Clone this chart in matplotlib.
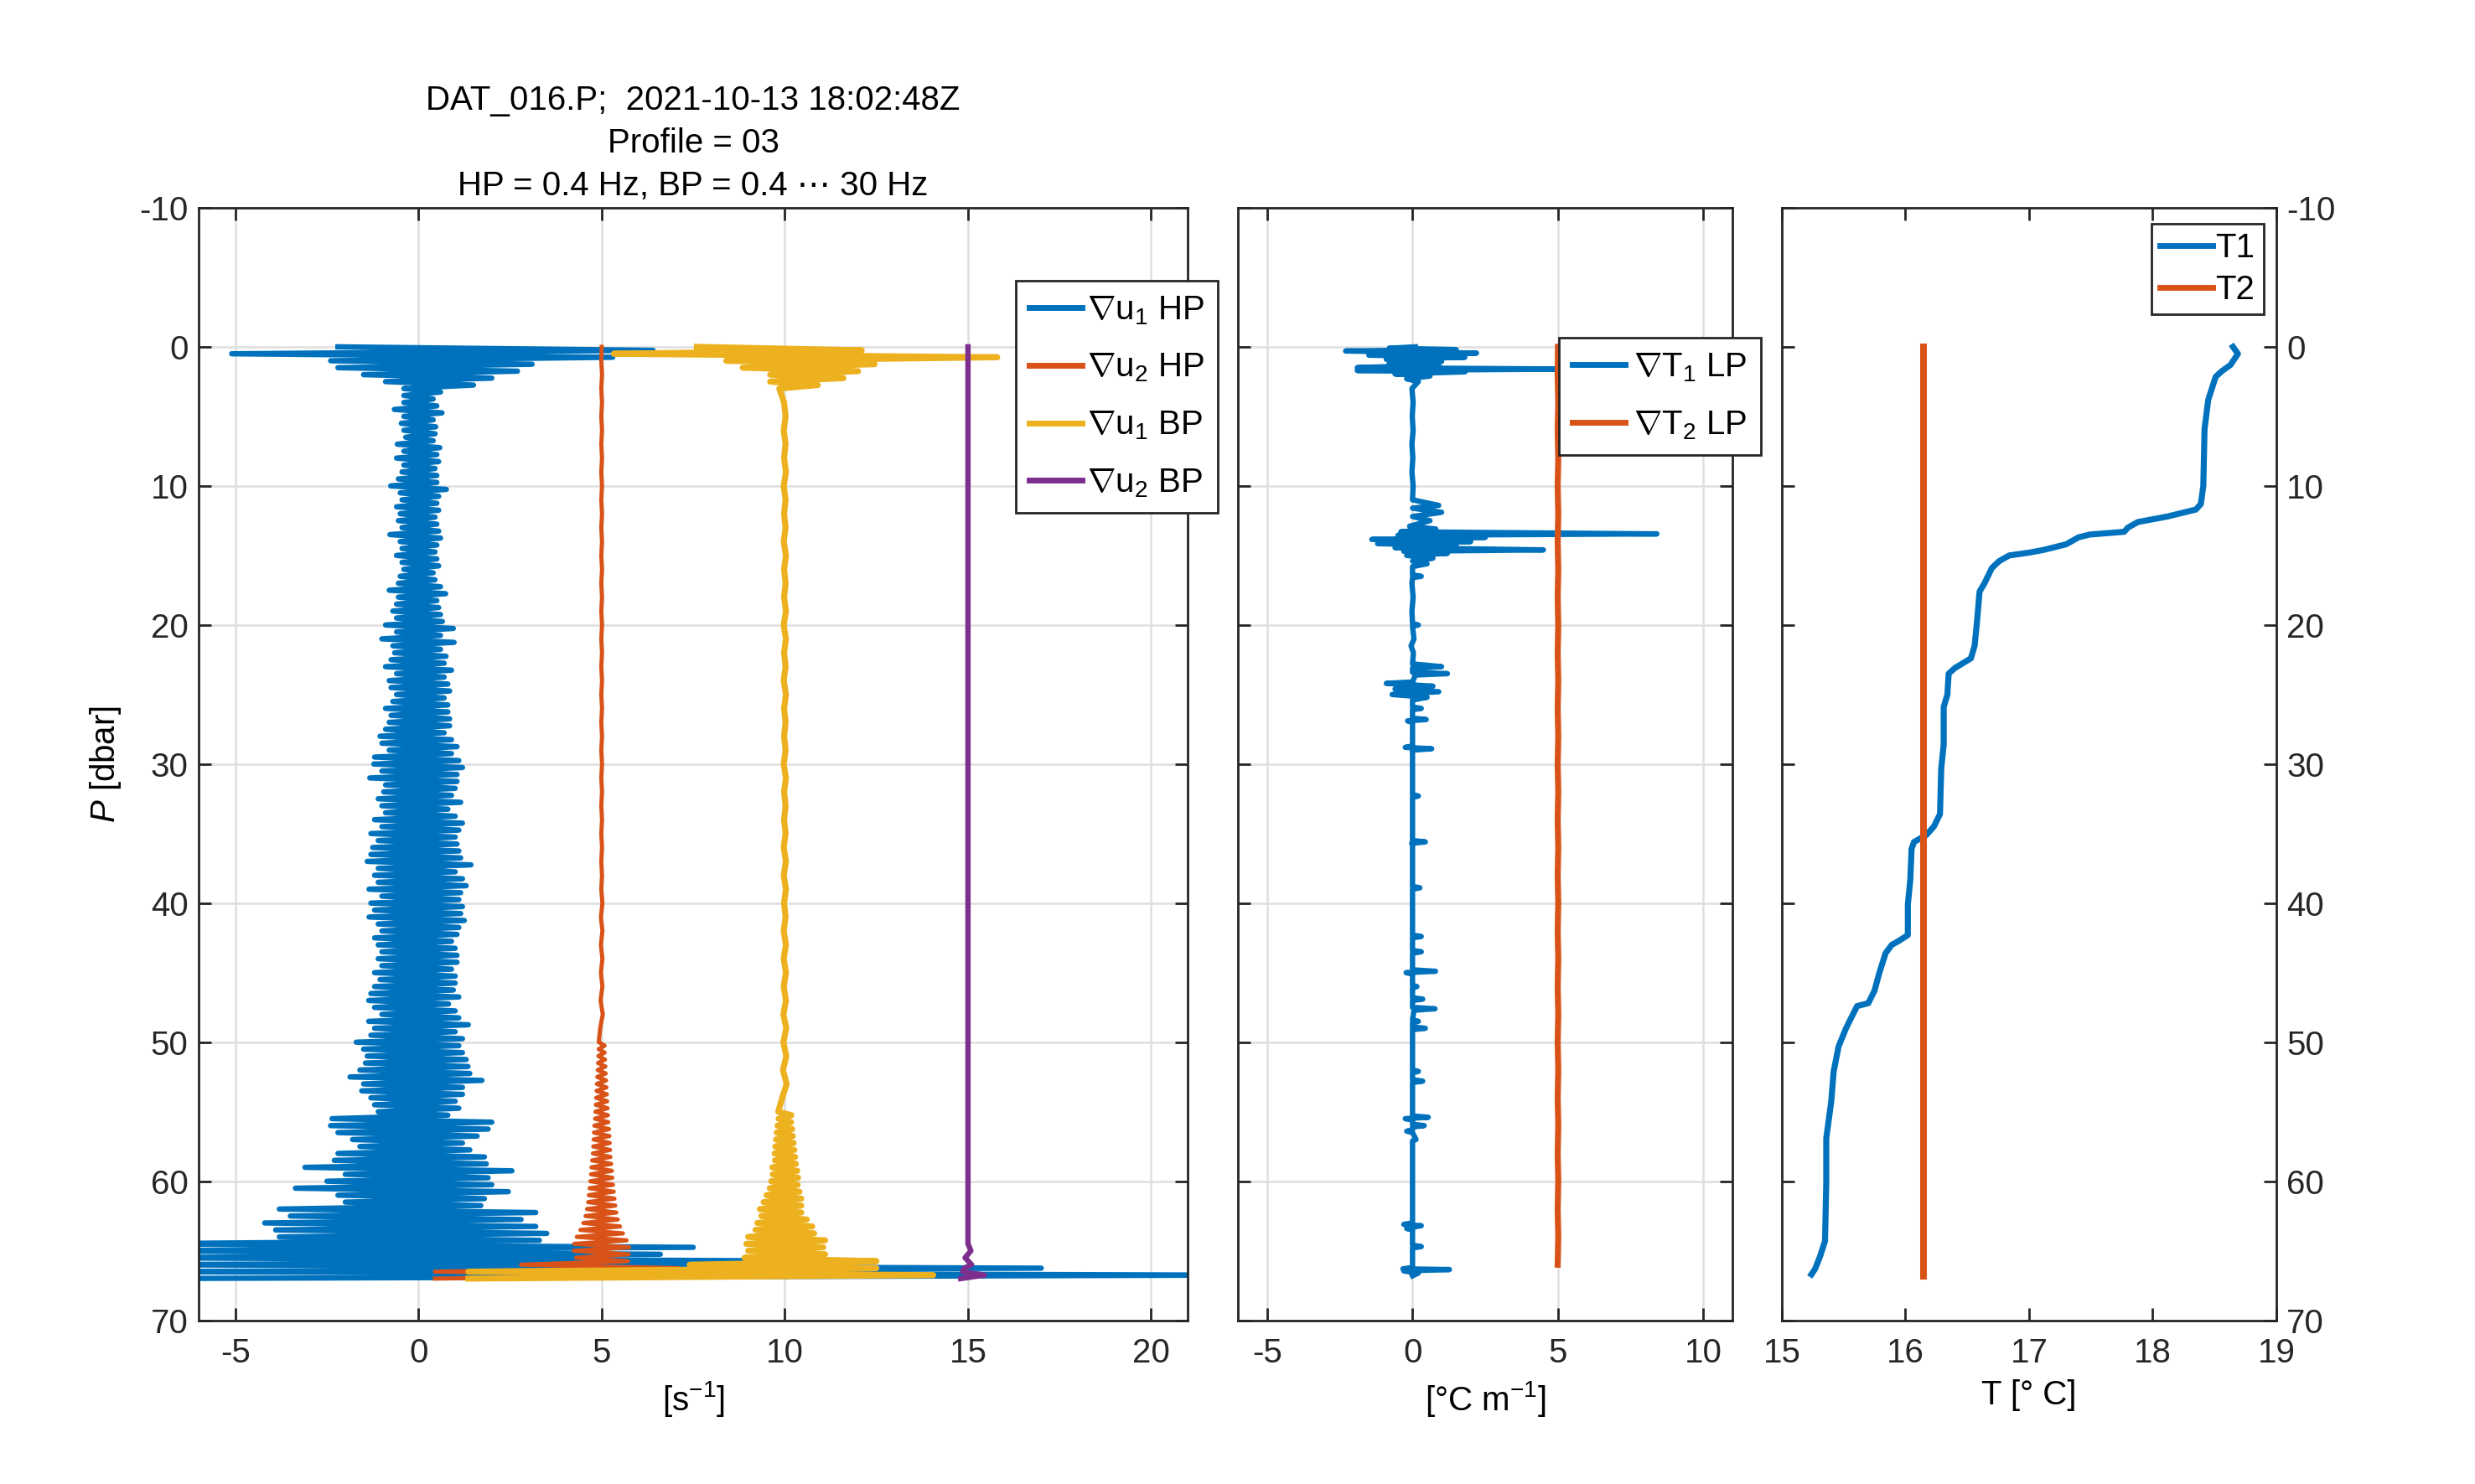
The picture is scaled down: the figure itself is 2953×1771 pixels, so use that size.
import numpy as np
import matplotlib
matplotlib.use('Agg')
import matplotlib.pyplot as plt

plt.rcParams['font.family'] = ['Liberation Sans', 'DejaVu Sans']
plt.rcParams['mathtext.fontset'] = 'custom'
plt.rcParams['mathtext.rm'] = 'Liberation Sans'
plt.rcParams['mathtext.it'] = 'Liberation Sans:italic'
plt.rcParams['axes.unicode_minus'] = False
plt.rcParams['font.size'] = 14.5

# ---- shear probes (offset by 0, 5, 10, 15 s^-1) ----
p_u1_hp = np.arange(0, 67.01, 0.25)
u1_hp = [
    -2.2, 6.4, -5.1, 5.3,   -2.4, 3.1, -2.2, 2.7,   -1.5, 2.0, -0.9, 1.5,
    -0.4, 0.6, -0.4, 0.4,   -0.4, 0.5, -0.66, 0.64, -0.4, 0.4, -0.47, 0.47,
    -0.4, 0.45, -0.35, 0.4, -0.58, 0.58, -0.4, 0.5, -0.6, 0.55, -0.4, 0.45,
    -0.45, 0.5, -0.55, 0.5, -0.76, 0.76, -0.5, 0.55, -0.45, 0.5, -0.6, 0.55,
    -0.5, 0.45, -0.55, 0.5, -0.45, 0.55, -0.78, 0.6, -0.5, 0.5, -0.45, 0.45,
    -0.6, 0.5, -0.45, 0.55, -0.4, 0.4, -0.5, 0.45, -0.55, 0.6, -0.8, 0.74,
    -0.55, 0.5, -0.6, 0.55, -0.7, 0.6, -0.6, 0.65, -0.9, 0.95, -0.6, 0.6,
    -1.0, 0.97, -0.7, 0.6,  -0.65, 0.75, -0.75, 0.7, -0.9, 0.9, -0.6, 0.7,
    -0.8, 0.8, -0.75, 0.85, -0.6, 0.7, -0.7, 0.8,   -0.9, 0.8, -0.75, 0.85,
    -0.8, 0.85, -0.9, 0.7,  -1.05, 0.9, -1.0, 1.05, -0.8, 0.9, -1.2, 1.1,
    -1.22, 1.2, -1.0, 1.05, -1.33, 1.05, -0.9, 1.0, -0.95, 0.9, -1.1, 1.15,
    -1.0, 0.8, -0.9, 1.0,   -1.2, 1.2, -1.0, 1.1,   -1.3, 1.0, -1.1, 1.05,
    -1.25, 1.1, -1.3, 1.15, -1.4, 1.43, -1.1, 1.0,  -1.2, 1.2, -1.1, 1.3,
    -1.35, 1.15, -1.0, 1.1, -1.3, 1.2, -1.2, 1.15,  -1.35, 1.25, -1.1, 1.1,
    -1.0, 1.05, -1.2, 0.9,  -1.1, 1.0, -1.0, 1.05,  -1.1, 1.05, -1.0, 0.9,
    -1.2, 1.0, -1.05, 1.0,  -1.2, 0.95, -1.3, 1.1,  -1.36, 0.82, -1.2, 1.0,
    -1.0, 1.1, -1.36, 1.36, -1.2, 1.0, -1.3, 1.2,   -1.7, 1.1, -1.5, 1.2,
    -1.4, 1.3, -1.45, 1.35, -1.6, 1.4, -1.87, 1.73, -1.5, 1.2, -1.55, 1.2,
    -1.3, 1.0, -1.2, 1.1,   -1.1, 0.8, -2.36, 2.0,  -2.4, 1.9, -2.2, 1.6,
    -1.8, 1.2, -1.6, 1.4,   -2.2, 1.8, -2.3, 1.85,  -3.1, 2.55, -2.0, 1.9,
    -2.5, 2.0, -3.36, 2.45, -2.2, 1.8, -2.0, 1.7,   -3.8, 3.2, -3.5, 2.8,
    -4.2, 3.2, -3.9, 3.5,   -3.8, 3.3, -8.0, 7.5,   -8.0, 6.6, -8.0, 12.1,
    -8.0, 17.0, -8.0, 22.0,
    -8.0,
]

p_u2_top = np.arange(0, 49.01, 1.0)
u2_hp_top = [
    5.0, 4.99, 5.01, 4.99, 5.01, 4.99, 5.01, 4.99, 5.01, 4.99,
    5.01, 4.99, 5.01, 4.99, 5.01, 4.99, 5.01, 4.99, 5.01, 4.99,
    5.01, 4.99, 5.01, 4.99, 5.01, 4.99, 5.01, 4.99, 5.01, 4.99,
    5.01, 4.99, 5.01, 4.99, 5.01, 4.99, 5.01, 4.99, 5.01, 4.99,
    5.02, 4.98, 5.02, 4.98, 5.02, 4.98, 5.02, 4.97, 5.03, 4.96,
]
p_u2_bot = np.arange(50, 67.01, 0.25)
u2_hp_bot = [
    4.92, 5.08, 4.92, 5.08,  4.91, 5.09, 4.9, 5.1,    4.89, 5.11, 4.88, 5.12,
    4.87, 5.13, 4.86, 5.14,  4.85, 5.15, 4.84, 5.16,  4.83, 5.17, 4.82, 5.18,
    4.8, 5.2, 4.79, 5.21,    4.78, 5.22, 4.77, 5.23,  4.76, 5.24, 4.74, 5.26,
    4.72, 5.28, 4.71, 5.29,  4.69, 5.31, 4.67, 5.33,  4.65, 5.35, 4.63, 5.37,
    4.6, 5.4, 4.56, 5.44,    4.5, 5.5, 4.42, 5.58,    4.32, 5.68, 4.25, 5.75,
    4.24, 5.74, 4.3, 5.72,   2.8, 7.1, 0.45, 7.2,
    0.45,
]

p_u1bp_top = np.arange(0, 3.01, 0.25)
u1_bp_top = [7.6, 12.1, 5.33, 15.8, 8.4, 12.45, 8.85, 12.0, 9.6, 11.6, 9.6, 10.9, 9.85]
p_u1bp_mid = np.arange(4, 54.01, 1.0)
u1_bp_mid = [
    9.98, 10.02, 9.97, 10.02, 9.98, 10.03, 9.97, 10.02, 9.98, 10.02,
    9.97, 10.03, 9.98, 10.02, 9.98, 10.03, 9.97, 10.03, 9.98, 10.02,
    9.97, 10.03, 9.98, 10.02, 9.98, 10.02, 9.97, 10.03, 9.98, 10.02,
    9.98, 10.02, 9.97, 10.03, 9.97, 10.03, 9.98, 10.02, 9.97, 10.03,
    9.97, 10.03, 9.97, 10.03, 9.96, 10.04, 9.96, 10.04, 9.95, 10.05, 9.93,
]
p_u1bp_bot = np.arange(55, 67.01, 0.25)
u1_bp_bot = [
    9.82, 10.18, 9.83, 10.17,  9.8, 10.2, 9.78, 10.22,    9.76, 10.24, 9.74, 10.26,
    9.72, 10.28, 9.73, 10.3,   9.66, 10.34, 9.67, 10.36,  9.63, 10.35, 9.59, 10.4,
    9.5, 10.45, 9.42, 10.45,   9.32, 10.45, 9.36, 10.6,   9.25, 10.75, 9.2, 10.8,
    9.0, 11.1, 8.95, 11.05,    9.0, 11.1, 8.9, 12.5,      7.4, 12.5, 1.36, 14.05,
    1.36,
]

p_u2_bp = [0, 30, 64.5, 65, 65.5, 66, 66.25, 66.5, 66.75, 67.0]
u2_bp = [15.0, 15.0, 15.0, 15.08, 14.92, 15.1, 14.9, 14.85, 15.45, 14.8]

# ---- temperature gradient (degC/m), T2 offset by 5 ----
p_gT1 = [
    0.0, 0.1, 0.2, 0.3, 0.45, 0.6, 0.75, 0.9, 1.05, 1.2,
    1.3, 1.5, 1.6, 1.7, 1.8, 1.95, 2.1, 2.3, 2.5, 3,
    4, 5, 6, 7, 8, 9, 10, 11, 11.4, 11.6,
    11.9, 12.2, 12.5, 12.9, 13.1, 13.3, 13.45, 13.55, 13.7, 13.85,
    14.0, 14.15, 14.3, 14.45, 14.6, 14.7, 14.85, 15.0, 15.2, 15.4,
    15.6, 15.8, 16.4, 16.5, 16.6, 17, 18, 19, 19.9, 20,
    20.1, 21, 21.5, 22, 22.8, 23.0, 23.1, 23.4, 23.5, 23.6,
    24.1, 24.2, 24.4, 24.6, 24.8, 25.0, 25.2, 25.4, 25.9, 26.0,
    26.1, 26.7, 26.8, 26.9, 27.0, 28.7, 28.8, 28.9, 29.0, 32.2,
    32.3, 32.4, 35.5, 35.6, 35.7, 35.8, 38.8, 38.9, 39.0, 42.3,
    42.4, 42.5, 43.4, 43.5, 43.6, 44.8, 44.9, 45.0, 45.1, 45.9,
    46.0, 46.1, 46.8, 46.9, 47.0, 47.5, 47.6, 47.7, 48.4, 48.5,
    48.6, 48.9, 49.0, 49.1, 52.0, 52.1, 52.2, 52.7, 52.8, 52.9,
    55.3, 55.4, 55.5, 55.6, 55.9, 56.0, 56.1, 56.3, 56.4, 56.5,
    57.0, 57.1, 63.0, 63.1, 63.2, 63.3, 63.4, 63.5, 64.6, 64.7,
    64.8, 66.2, 66.3, 66.35, 66.45, 66.6, 66.8,
]
gT1 = [
    0.1, -0.8, 1.5, -2.3, 2.2, -1.5, 1.8, -0.9, 1.0, -0.8,
    0.9, -1.9, 5.5, -1.9, 1.8, -0.6, 0.6, -0.2, 0.2, -0.02,
    0.02, -0.01, 0.02, -0.02, 0.01, -0.02, 0.02, 0.0, 0.9, 0.0,
    1.0, 0.0, 0.6, -0.1, 0.8, -0.4, 8.4, -0.5, 2.5, -1.4,
    2.0, -1.2, 1.5, -0.6, 4.5, -0.3, 1.2, -0.2, 0.7, 0.0,
    0.5, 0.0, 0.0, 0.3, 0.0, -0.02, 0.02, -0.02, 0.0, 0.2,
    0.0, 0.05, -0.05, 0.03, 0.0, 1.0, 0.0, 0.0, 1.2, 0.1,
    0.0, -0.9, 0.7, -0.6, 0.9, -0.7, 0.5, 0.0, 0.0, 0.3,
    0.0, 0.0, 0.47, -0.17, 0.0, 0.0, -0.25, 0.66, 0.0, 0.0,
    0.2, 0.0, 0.0, 0.44, -0.03, 0.0, 0.0, 0.25, 0.0, 0.0,
    0.3, 0.0, 0.0, 0.3, 0.0, 0.0, 0.79, -0.22, 0.0, 0.0,
    0.15, 0.0, 0.0, 0.35, 0.0, 0.0, 0.77, 0.05, 0.0, 0.2,
    0.0, 0.0, 0.44, 0.0, 0.0, 0.2, 0.0, 0.0, 0.35, 0.0,
    0.0, 0.54, -0.25, 0.0, 0.0, 0.4, 0.0, 0.0, -0.2, 0.0,
    0.12, 0.0, 0.0, -0.3, 0.3, 0.0, -0.2, 0.0, 0.0, 0.3,
    0.0, 0.0, -0.33, 1.27, -0.3, 0.2, 0.0,
]
p_gT2 = np.arange(0, 66.01, 2.0)
gT2 = [
    5.0, 4.99, 5.01, 4.99, 5.01, 4.99, 5.01, 4.99, 5.01, 4.99,
    5.01, 4.99, 5.01, 4.99, 5.01, 4.99, 5.01, 4.99, 5.01, 4.99,
    5.01, 4.99, 5.01, 4.99, 5.01, 4.99, 5.01, 4.99, 5.01, 4.99,
    5.01, 4.99, 5.01, 4.99,
]

# ---- temperature profiles ----
p_T1 = [0, 0.5, 1.3, 1.75, 2.15, 3.8, 5.9, 10, 11.3, 11.7,
        12.2, 12.6, 13.0, 13.3, 13.5, 13.7, 14.2, 14.6, 14.8, 15.0,
        15.4, 15.9, 17.0, 17.6, 19.7, 21.5, 22.4, 23.1, 23.5, 25.0,
        25.9, 28.6, 30.3, 33.6, 34.5, 35.1, 35.6, 36.1, 38.3, 40.1,
        42.3, 42.7, 43.0, 43.6, 45.0, 46.3, 47.2, 47.4, 48.1, 49.0,
        50.3, 52.1, 54.3, 56.9, 60.1, 64.3, 65.4, 66.3, 66.7]
T1 = [18.65, 18.69, 18.63, 18.56, 18.51, 18.45, 18.42, 18.41, 18.39, 18.35,
      18.12, 17.88, 17.80, 17.77, 17.49, 17.40, 17.30, 17.12, 17.0, 16.84,
      16.76, 16.70, 16.64, 16.60, 16.58, 16.56, 16.53, 16.40, 16.35, 16.34,
      16.31, 16.31, 16.29, 16.28, 16.23, 16.17, 16.07, 16.05, 16.04, 16.02,
      16.02, 15.95, 15.89, 15.84, 15.79, 15.75, 15.70, 15.61, 15.57, 15.52,
      15.46, 15.42, 15.40, 15.36, 15.36, 15.35, 15.31, 15.27, 15.24]
p_T2 = [0, 66.8]
T2 = [16.15, 16.15]

c_blue, c_orange, c_yellow, c_purple = '#0072BD', '#D95319', '#EDB120', '#7E2F8E'
ink = '#262626'

fig = plt.figure(figsize=(2953 / 200, 1771 / 200), dpi=200)
ax1 = fig.add_axes([0.0803, 0.1103, 0.3996, 0.7497])
ax2 = fig.add_axes([0.5002, 0.1103, 0.1998, 0.7497])
ax3 = fig.add_axes([0.7199, 0.1103, 0.1998, 0.7497])


def style(ax, xlim, xticks, grid=True):
    ax.set_xlim(xlim)
    ax.set_ylim(70, -10)
    ax.set_xticks(xticks)
    ax.set_yticks(np.arange(-10, 71, 10))
    ax.tick_params(direction='in', length=5.5, width=1.0, top=True, right=True,
                   colors=ink, labelsize=14.5)
    ax.tick_params(axis='x', pad=7.5)
    ax.tick_params(axis='y', pad=4.5)
    for s in ax.spines.values():
        s.set_linewidth(1.0)
        s.set_color(ink)
    if grid:
        ax.grid(True, color='#dfdfdf', lw=0.9)
        ax.set_axisbelow(True)


def legend(ax, anchor, spacing=0.75, pad=0.4, textpad=0.3):
    leg = ax.legend(loc='upper left', bbox_to_anchor=anchor, borderaxespad=0,
                    handlelength=1.56, handletextpad=textpad, borderpad=pad,
                    labelspacing=spacing, fancybox=False, framealpha=1,
                    edgecolor=ink, fontsize=14.5)
    leg.get_frame().set_linewidth(1.0)
    for ln in leg.get_lines():
        ln.set_linewidth(2.5)
    return leg


lw = 2.3
ax1.plot(u1_hp, p_u1_hp, color=c_blue, lw=lw, label=r'$\nabla$u$_1$ HP')
ax1.plot(np.concatenate([u2_hp_top, u2_hp_bot]), np.concatenate([p_u2_top, p_u2_bot]),
         color=c_orange, lw=1.8, label=r'$\nabla$u$_2$ HP')
ax1.plot(np.concatenate([u1_bp_top, u1_bp_mid, u1_bp_bot]),
         np.concatenate([p_u1bp_top, p_u1bp_mid, p_u1bp_bot]),
         color=c_yellow, lw=2.6, label=r'$\nabla$u$_1$ BP')
ax1.plot(u2_bp, p_u2_bp, color=c_purple, lw=lw, label=r'$\nabla$u$_2$ BP')
style(ax1, (-6, 21), [-5, 0, 5, 10, 15, 20])
ax1.set_xlabel(r'[s$^{-1}$]', labelpad=4)
ax1.set_ylabel(r'$P$ [dbar]', labelpad=7)
ax1.set_title('DAT_016.P;  2021-10-13 18:02:48Z\nProfile = 03\nHP = 0.4 Hz, BP = 0.4 \u22ef 30 Hz',
              fontsize=14.5, linespacing=1.43, pad=5.5, color='black')
legend(ax1, (0.826, 0.9345), textpad=0.15)

ax2.plot(gT1, p_gT1, color=c_blue, lw=lw, label=r'$\nabla$T$_1$ LP')
ax2.plot(gT2, p_gT2, color=c_orange, lw=2.6, label=r'$\nabla$T$_2$ LP')
style(ax2, (-6, 11), [-5, 0, 5, 10])
ax2.tick_params(labelleft=False)
ax2.set_xlabel(r'[°C m$^{-1}$]', labelpad=4)
legend(ax2, (0.649, 0.883), textpad=0.25)

ax3.plot(T1, p_T1, color=c_blue, lw=2.6, label='T1')
ax3.plot(T2, p_T2, color=c_orange, lw=2.9, label='T2')
style(ax3, (15, 19), [15, 16, 17, 18, 19], grid=False)
ax3.tick_params(labelleft=False, labelright=True)
ax3.set_xlabel('T [° C]', labelpad=4)
legend(ax3, (0.747, 0.986), spacing=0.3, pad=0.25, textpad=0.1)

fig.savefig('out.png', dpi=200)
